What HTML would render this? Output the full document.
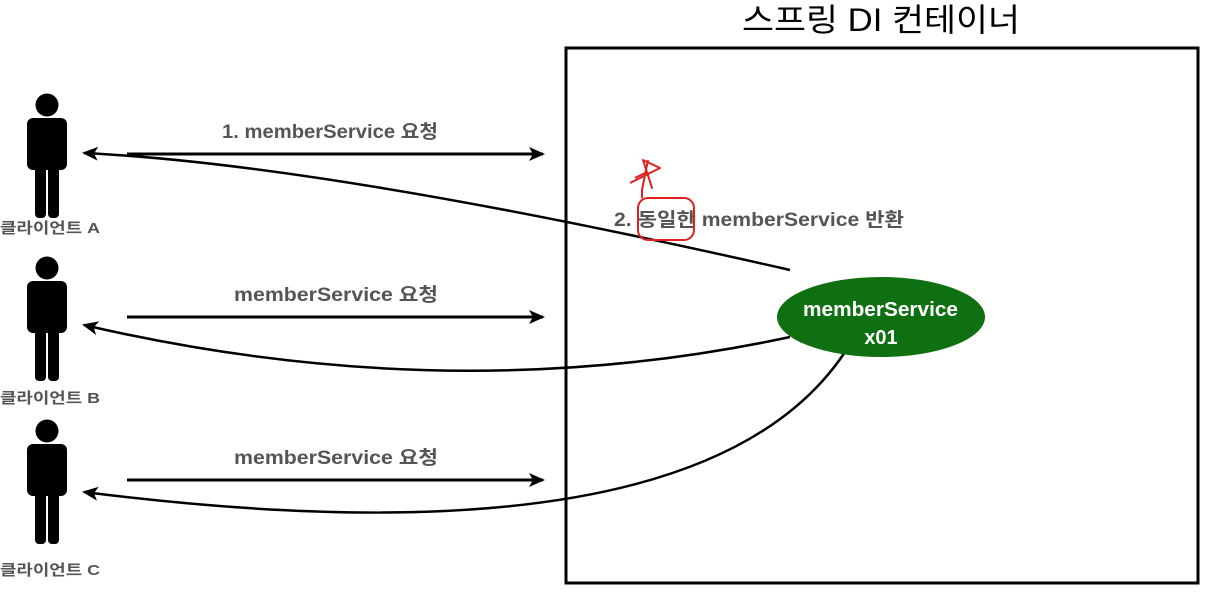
<!DOCTYPE html>
<html><head><meta charset="utf-8"><style>
body{margin:0;background:#fff;}
svg text{font-family:"Liberation Sans","Noto Sans CJK KR",sans-serif;}
</style></head><body>
<svg width="1206" height="594" viewBox="0 0 1206 594" xmlns="http://www.w3.org/2000/svg">
<defs>
<marker id="ah" markerWidth="16" markerHeight="14" refX="14" refY="7" orient="auto" markerUnits="userSpaceOnUse"><path d="M0,0 L16,7 L0,14 L4,7 Z" fill="#000"/></marker>
<g id="person">
<circle cx="47" cy="105" r="11.5" fill="#000"/>
<rect x="27" y="118" width="40" height="52" rx="6" fill="#000"/>
<rect x="35" y="160" width="11" height="58" rx="4" fill="#000"/>
<rect x="48" y="160" width="11" height="58" rx="4" fill="#000"/>
</g>
</defs>
<text x="742" y="31" font-size="32" textLength="278" lengthAdjust="spacingAndGlyphs" fill="#000">스프링 DI 컨테이너</text>
<rect x="566" y="48" width="632" height="535" fill="none" stroke="#000" stroke-width="3"/>
<use href="#person"/>
<use href="#person" y="163"/>
<use href="#person" y="326"/>
<g font-size="15" font-weight="bold" fill="#555">
<text x="0" y="233" textLength="100" lengthAdjust="spacingAndGlyphs">클라이언트 A</text>
<text x="0" y="403" textLength="100" lengthAdjust="spacingAndGlyphs">클라이언트 B</text>
<text x="0" y="575" textLength="100" lengthAdjust="spacingAndGlyphs">클라이언트 C</text>
</g>
<g stroke="#000" stroke-width="3" fill="none">
<line x1="127" y1="154" x2="543" y2="154" marker-end="url(#ah)"/>
<line x1="127" y1="317" x2="543" y2="317" marker-end="url(#ah)"/>
<line x1="127" y1="480" x2="543" y2="480" marker-end="url(#ah)"/>
</g>
<g stroke="#000" stroke-width="2.5" fill="none">
<path d="M790,270 Q330,165 84,153" marker-end="url(#ah)"/>
<path d="M790,337 Q450,410 84,325" marker-end="url(#ah)"/>
<path d="M845,352 Q700,570 84,492" marker-end="url(#ah)"/>
</g>
<g font-size="19" font-weight="bold" fill="#555">
<text x="222" y="138" textLength="216" lengthAdjust="spacingAndGlyphs">1. memberService 요청</text>
<text x="234" y="301" textLength="204" lengthAdjust="spacingAndGlyphs">memberService 요청</text>
<text x="234" y="464" textLength="204" lengthAdjust="spacingAndGlyphs">memberService 요청</text>
</g>
<text x="614" y="226" font-size="19" font-weight="bold" fill="#555" textLength="290" lengthAdjust="spacingAndGlyphs">2. 동일한 memberService 반환</text>
<g stroke="#e02020" stroke-width="2" fill="none" stroke-linejoin="round">
<rect x="638" y="198" width="56" height="42" rx="10"/>
<path d="M642,198 L642,190 L648,160"/>
<path d="M630,183 L660,168 L643,160 L652,188 L647,172 L635,178"/>
</g>
<ellipse cx="881" cy="317" rx="104" ry="40" fill="#0e7010"/>
<g font-size="20" font-weight="bold" fill="#fff">
<text x="803" y="316" textLength="155" lengthAdjust="spacingAndGlyphs">memberService</text>
<text x="881" y="344" text-anchor="middle">x01</text>
</g>
</svg>
</body></html>
